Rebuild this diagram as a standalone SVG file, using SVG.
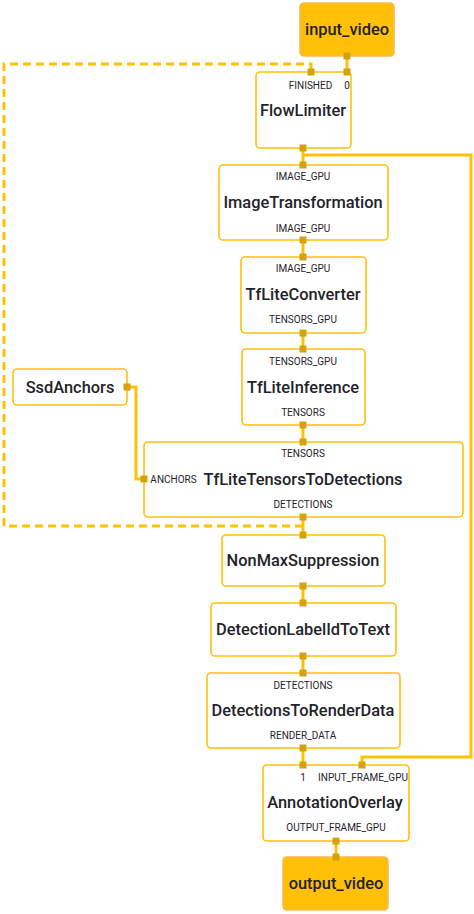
<svg xmlns="http://www.w3.org/2000/svg" width="474" height="914" viewBox="0 0 474 914">
<style>
.node{fill:#ffffff;stroke:#FFC107;stroke-width:1.6}
.io{fill:#FFC107;stroke:#FFB74D;stroke-width:1.6}
.edge{fill:none;stroke:#FFC107;stroke-width:3}
.dash{fill:none;stroke:#FFC107;stroke-width:3;stroke-dasharray:8 5}
.port{fill:#D4A20A}
.t{font-family:Roboto,"Liberation Sans",sans-serif;font-size:16.4px;font-weight:500;fill:#1f2329;text-anchor:middle;dominant-baseline:central}
.p{font-family:Roboto,"Liberation Sans",sans-serif;font-size:10px;fill:#1f2329;text-anchor:middle;dominant-baseline:central}
</style>
<g id="connectors">
<path class="dash" d="M303,526 H4 V64 H311 V72"/>
<path class="edge" d="M347,56 V72"/>
<path class="edge" d="M303,148 V165"/>
<path class="edge" d="M303,155 H471 V757 H362 V765"/>
<path class="edge" d="M303,240 V257"/>
<path class="edge" d="M303,333 V349"/>
<path class="edge" d="M303,425 V442"/>
<path class="edge" d="M127,387 H136 V479 H144"/>
<path class="edge" d="M303,517 V535"/>
<path class="edge" d="M303,586 V603"/>
<path class="edge" d="M303,656 V673"/>
<path class="edge" d="M303,748 V765"/>
<path class="edge" d="M336,841 V857"/>
</g>
<g id="input_video">
<rect class="io" x="300" y="3" width="94" height="53" rx="4"/>
<text class="t" x="347" y="29.5">input_video</text>
<rect class="port" x="343.5" y="52.5" width="7" height="7"/>
</g>
<g id="FlowLimiter">
<rect class="node" x="256" y="72" width="95" height="76" rx="4"/>
<text class="p" x="310.5" y="85">FINISHED</text>
<text class="p" x="347" y="85">0</text>
<text class="t" x="303" y="110">FlowLimiter</text>
<rect class="port" x="307.5" y="68.5" width="7" height="7"/>
<rect class="port" x="343.5" y="68.5" width="7" height="7"/>
<rect class="port" x="299.5" y="144.5" width="7" height="7"/>
</g>
<g id="ImageTransformation">
<rect class="node" x="219" y="165" width="169" height="75" rx="4"/>
<text class="p" x="303" y="176">IMAGE_GPU</text>
<text class="t" x="303" y="202">ImageTransformation</text>
<text class="p" x="303" y="228">IMAGE_GPU</text>
<rect class="port" x="299.5" y="161.5" width="7" height="7"/>
<rect class="port" x="299.5" y="236.5" width="7" height="7"/>
</g>
<g id="TfLiteConverter">
<rect class="node" x="241" y="257" width="125" height="76" rx="4"/>
<text class="p" x="303" y="268">IMAGE_GPU</text>
<text class="t" x="303" y="294">TfLiteConverter</text>
<text class="p" x="303" y="319">TENSORS_GPU</text>
<rect class="port" x="299.5" y="253.5" width="7" height="7"/>
<rect class="port" x="299.5" y="329.5" width="7" height="7"/>
</g>
<g id="TfLiteInference">
<rect class="node" x="242" y="349" width="123" height="76" rx="4"/>
<text class="p" x="303" y="361">TENSORS_GPU</text>
<text class="t" x="303" y="387">TfLiteInference</text>
<text class="p" x="303" y="412">TENSORS</text>
<rect class="port" x="299.5" y="345.5" width="7" height="7"/>
<rect class="port" x="299.5" y="421.5" width="7" height="7"/>
</g>
<g id="SsdAnchors">
<rect class="node" x="13" y="369" width="114" height="36" rx="4"/>
<text class="t" x="70" y="387">SsdAnchors</text>
<rect class="port" x="123.5" y="383.5" width="7" height="7"/>
</g>
<g id="TfLiteTensorsToDetections">
<rect class="node" x="144" y="442" width="319" height="75" rx="4"/>
<text class="p" x="303" y="453">TENSORS</text>
<text class="p" x="173.5" y="479">ANCHORS</text>
<text class="t" x="303" y="479">TfLiteTensorsToDetections</text>
<text class="p" x="303" y="504">DETECTIONS</text>
<rect class="port" x="299.5" y="438.5" width="7" height="7"/>
<rect class="port" x="140.5" y="475.5" width="7" height="7"/>
<rect class="port" x="299.5" y="513.5" width="7" height="7"/>
</g>
<g id="NonMaxSuppression">
<rect class="node" x="222" y="535" width="163" height="51" rx="4"/>
<text class="t" x="303" y="560">NonMaxSuppression</text>
<rect class="port" x="299.5" y="531.5" width="7" height="7"/>
<rect class="port" x="299.5" y="582.5" width="7" height="7"/>
</g>
<g id="DetectionLabelIdToText">
<rect class="node" x="211" y="603" width="185" height="53" rx="4"/>
<text class="t" x="303" y="629">DetectionLabelIdToText</text>
<rect class="port" x="299.5" y="599.5" width="7" height="7"/>
<rect class="port" x="299.5" y="652.5" width="7" height="7"/>
</g>
<g id="DetectionsToRenderData">
<rect class="node" x="207" y="673" width="193" height="75" rx="4"/>
<text class="p" x="303" y="685">DETECTIONS</text>
<text class="t" x="303" y="710">DetectionsToRenderData</text>
<text class="p" x="303" y="735">RENDER_DATA</text>
<rect class="port" x="299.5" y="669.5" width="7" height="7"/>
<rect class="port" x="299.5" y="744.5" width="7" height="7"/>
</g>
<g id="AnnotationOverlay">
<rect class="node" x="263" y="765" width="146" height="76" rx="4"/>
<text class="p" x="303" y="777">1</text>
<text class="p" x="363" y="777">INPUT_FRAME_GPU</text>
<text class="t" x="335" y="802">AnnotationOverlay</text>
<text class="p" x="336" y="827">OUTPUT_FRAME_GPU</text>
<rect class="port" x="299.5" y="761.5" width="7" height="7"/>
<rect class="port" x="358.5" y="761.5" width="7" height="7"/>
<rect class="port" x="332.5" y="837.5" width="7" height="7"/>
</g>
<g id="output_video">
<rect class="io" x="283" y="857" width="105" height="53" rx="4"/>
<text class="t" x="336" y="883">output_video</text>
<rect class="port" x="332.5" y="853.5" width="7" height="7"/>
</g>
</svg>
